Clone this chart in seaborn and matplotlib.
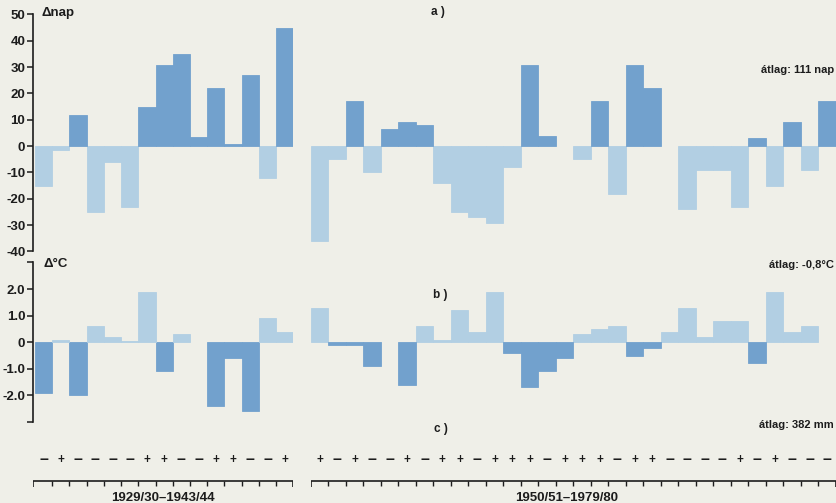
import numpy as np
import pandas as pd
import matplotlib
matplotlib.use("Agg")
import matplotlib.pyplot as plt
import seaborn as sns

# --- data -------------------------------------------------------------
period_labels = ["1929/30\u20131943/44", "1950/51\u20131979/80"]

# a) deviation of the number of days (nap) from the mean of 111 days
nap_p1 = [-15, -1.5, 12, -25, -6, -23, 15, 31, 35, 3.5, 22, 1, 27, -12, 45]
nap_p2 = [-36, -5, 17, -10, 6.5, 9, 8, -14, -25, -27,
          -29, -8, 31, 4, 0, -5, 17, -18, 31, 22,
          0, -24, -9, -9, -23, 3, -15, 9, -9, 17]

# b) temperature deviation from the mean of -0.8 °C
temp_p1 = [-1.9, 0.1, -2.0, 0.6, 0.2, 0.05, 1.9, -1.1, 0.3, 0, -2.4, -0.6, -2.6, 0.9, 0.4]
temp_p2 = [1.3, -0.1, -0.1, -0.9, 0, -1.6, 0.6, 0.1, 1.2, 0.4,
           1.9, -0.4, -1.7, -1.1, -0.6, 0.3, 0.5, 0.6, -0.5, -0.2,
           0.4, 1.3, 0.2, 0.8, 0.8, -0.8, 1.9, 0.4, 0.6, 0]

# c) precipitation above (+) / below (–) the mean of 382 mm
prec_p1 = list("\u2013+\u2013\u2013\u2013\u2013++\u2013\u2013++\u2013\u2013+")
prec_p2 = list("+\u2013+\u2013\u2013+\u2013++\u2013+++\u2013+++\u2013++\u2013\u2013\u2013\u2013+\u2013+\u2013\u2013\u2013")

nap_ticks = [-40, -30, -20, -10, 0, 10, 20, 30, 40, 50]
temp_ticks = [-3, -2, -1, 0, 1, 2, 3]
temp_ticklabels = ["", "-2.0", "-1.0", "0", "1.0", "2.0", ""]

# --- style ------------------------------------------------------------
W, H = 836, 503
BG = "#efefe8"
DARK = "#72a1cd"
LIGHT = "#b2cfe3"
INK = "#1c1c1c"
SIGN_SIZE = {"+": 8.5, "\u2013": 11.5}

sns.set_theme(style="white")
plt.rcParams["font.family"] = ["Liberation Sans", "DejaVu Sans"]
plt.rcParams["font.weight"] = "bold"
plt.rcParams["text.color"] = INK

fig = plt.figure(figsize=(W / 100, H / 100), dpi=100, facecolor=BG)


def rect(x0, y0, x1, y1):
    """Axes rectangle from pixel edges (y measured from the top)."""
    return [x0 / W, 1 - y1 / H, (x1 - x0) / W, (y1 - y0) / H]


# horizontal extents of the two periods (pixels)
P1 = (33, 293.3)
P2 = (310.7, 835.7)
bar_w1 = (P1[1] - 35) / len(nap_p1)
p1_xlim = (-0.5 - (35 - P1[0]) / bar_w1, len(nap_p1) - 0.5)


def draw_bars(ax, values, pos_color, neg_color):
    df = pd.DataFrame({"idx": np.arange(len(values)), "val": values})
    df["kind"] = np.where(df["val"] >= 0, "pos", "neg")
    sns.barplot(data=df, x="idx", y="val", hue="kind",
                palette={"pos": pos_color, "neg": neg_color},
                dodge=False, width=1, saturation=1, errorbar=None,
                legend=False, linewidth=0, ax=ax)
    for p in ax.patches:
        if abs(p.get_height()) > 0:
            p.set_edgecolor(p.get_facecolor())
            p.set_linewidth(0.6)
    ax.set_xlabel("")
    ax.set_ylabel("")
    ax.set_xticks([])
    ax.set_facecolor("none")
    for s in ax.spines.values():
        s.set_visible(False)


def panel(y_top, y_bot, v1, v2, ylim, pos_color, neg_color, ticks, ticklabels):
    ax1 = fig.add_axes(rect(P1[0], y_top, P1[1], y_bot))
    ax2 = fig.add_axes(rect(P2[0], y_top, P2[1], y_bot))
    draw_bars(ax1, v1, pos_color, neg_color)
    draw_bars(ax2, v2, pos_color, neg_color)
    ax1.set_xlim(*p1_xlim)
    ax2.set_xlim(-0.5, len(v2) - 0.5)
    for ax in (ax1, ax2):
        ax.set_ylim(*ylim)
    ax2.set_yticks([])
    ax1.spines["left"].set_visible(True)
    ax1.spines["left"].set_color(INK)
    ax1.spines["left"].set_linewidth(1.2)
    ax1.set_yticks(ticks)
    ax1.set_yticklabels(ticklabels)
    ax1.tick_params(axis="y", direction="out", length=4, width=1.1,
                    color=INK, labelcolor=INK, labelsize=9.5, pad=1.5, left=True)
    return ax1, ax2


# a) number of days
panel(14.5, 251.5, nap_p1, nap_p2, (-40, 50), DARK, LIGHT,
      nap_ticks, [str(t) for t in nap_ticks])
# b) temperature (colours reversed: cold winters are dark)
panel(262.4, 422, temp_p1, temp_p2, (-3, 3), LIGHT, DARK,
      temp_ticks, temp_ticklabels)

# c) precipitation signs and the year axis for each period
for (x0, x1), signs in ((P1, prec_p1), (P2, prec_p2)):
    axc = fig.add_axes(rect(x0, 445, x1, 492))
    n = len(signs)
    if x0 == P1[0]:
        axc.set_xlim(*p1_xlim)
    else:
        axc.set_xlim(-0.5, n - 0.5)
    axc.set_ylim(492, 445)
    axc.axis("off")
    for i, s in enumerate(signs):
        axc.text(i, 460, s, ha="center", va="center",
                 fontsize=SIGN_SIZE[s], color=INK)
    left, right = axc.get_xlim()
    axc.hlines(481, left, right, color=INK, lw=1.2)
    edges = np.arange(n + 1) - 0.5
    edges[0] = left
    axc.vlines(edges[1:-1], 481, 485.5, color=INK, lw=1)
    axc.vlines([edges[0], edges[-1]], 481, 487, color=INK, lw=1.2)

# labels
fig.text(42 / W, 1 - 13 / H, "\u0394nap", fontsize=9.5, va="center", ha="left")
fig.text(43 / W, 1 - 264 / H, "\u0394\u00b0C", fontsize=9.5, va="center", ha="left")
fig.text(438 / W, 1 - 12 / H, "a )", fontsize=8.5, va="center", ha="center")
fig.text(440 / W, 1 - 295 / H, "b )", fontsize=8.5, va="center", ha="center")
fig.text(441 / W, 1 - 429 / H, "c )", fontsize=8.5, va="center", ha="center")
fig.text(834 / W, 1 - 70 / H, "\u00e1tlag: 111 nap", fontsize=8, va="center", ha="right")
fig.text(834 / W, 1 - 265 / H, "\u00e1tlag: -0,8\u00b0C", fontsize=8, va="center", ha="right")
fig.text(834 / W, 1 - 425 / H, "\u00e1tlag: 382 mm", fontsize=8, va="center", ha="right")
fig.text(162.5 / W, 1 - 498 / H, period_labels[0], fontsize=9.5, va="center", ha="center")
fig.text(567 / W, 1 - 498 / H, period_labels[1], fontsize=9.5, va="center", ha="center")

fig.savefig("out.png", dpi=100, facecolor=BG)
